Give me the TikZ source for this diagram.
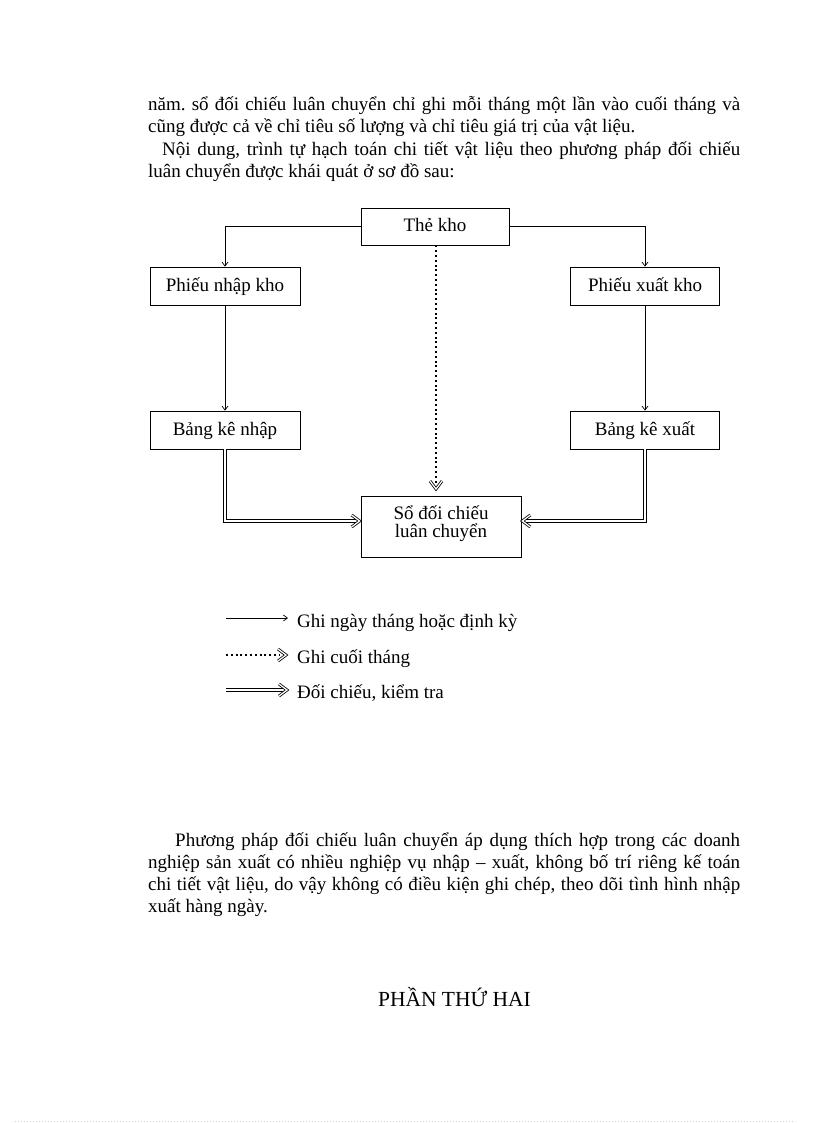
\documentclass[tikz,border=0pt]{standalone}
\usepackage{fontspec}
\setmainfont{Liberation Serif}
\usetikzlibrary{arrows.meta}
\frenchspacing
\begin{document}
\begin{tikzpicture}[x=1pt,y=-1pt,
  every node/.style={font=\fontsize{19}{22}\selectfont, inner sep=0pt},
  box/.style={draw, line width=0.8pt, minimum width=149pt, minimum height=38pt, text height=15pt, text depth=4pt},
  txt/.style={anchor=base west},
  thinarr/.style={line width=0.7pt, -{Straight Barb[length=4pt,width=6pt,line width=0.7pt]}},
  dotline/.style={line width=2pt, dash pattern=on 2pt off 2.8pt},
  dbl/.style={double, double distance=2pt, line width=1pt},
  chev/.style={double, double distance=1.3pt, line width=0.8pt, line join=miter, miter limit=20},
]
\useasboundingbox (0,0) rectangle (816,1123);
\fill[white] (0,0) rectangle (816,1123);

% top paragraph
\node[txt] (p1) at (148,111) {\makebox[592pt][s]{năm. sổ đối chiếu luân chuyển chỉ ghi mỗi tháng một lần vào cuối tháng và}};
\node[txt] (p2) at (148,133) {cũng được cả về chỉ tiêu số lượng và chỉ tiêu giá trị của vật liệu.};
\node[txt] (p3) at (162,156) {\makebox[578pt][s]{Nội dung, trình tự hạch toán chi tiết vật liệu theo phương pháp đối chiếu}};
\node[txt] (p4) at (148,178) {luân chuyển được khái quát ở sơ đồ sau:};

% boxes
\node[box, minimum width=148pt, minimum height=37pt] (the) at (435,226.5) {Thẻ kho};
\node[box, minimum width=150pt] (pnk) at (225,286) {Phiếu nhập kho};
\node[box] (pxk) at (645,286) {Phiếu xuất kho};
\node[box, minimum width=150pt] (bkn) at (225,430) {Bảng kê nhập};
\node[box] (bkx) at (645,430) {Bảng kê xuất};
\node[box, minimum width=160pt, minimum height=61pt] (so) at (441,526.5) {};
\node[align=center, font=\fontsize{19}{18}\selectfont] (sot) at (441,524) {Sổ đối chiếu\\luân chuyển};

% connectors
\draw[thinarr] (the.west) -| (pnk.north);
\draw[thinarr] (the.east) -| (pxk.north);
\draw[thinarr] (pnk.south) -- (bkn.north);
\draw[thinarr] (pxk.south) -- (bkx.north);

\coordinate (dotend) at (436,489);
\draw[dotline, shorten >=6pt] (the.south -| dotend) -- (dotend);
\draw[chev] ([xshift=-6pt,yshift=8pt]dotend) -- (dotend) -- ([xshift=6pt,yshift=8pt]dotend);

\coordinate (soL) at ([xshift=-1pt,yshift=5.5pt]so.west);
\coordinate (soR) at ([xshift=1pt,yshift=5.5pt]so.east);
\draw[dbl, shorten >=4pt] (bkn.south) |- (soL);
\draw[dbl, shorten >=4pt] (bkx.south) |- (soR);
\draw[chev] ([xshift=-8pt,yshift=6pt]soL) -- (soL) -- ([xshift=-8pt,yshift=-6pt]soL);
\draw[chev] ([xshift=8pt,yshift=6pt]soR) -- (soR) -- ([xshift=8pt,yshift=-6pt]soR);

% legend
\coordinate (a1) at (226,618); \coordinate (b1) at (288,618);
\coordinate (a2) at (226,655); \coordinate (b2) at (286,655);
\coordinate (a3) at (226,690); \coordinate (b3) at (287,690);
\draw[thinarr] (a1) -- (b1);
\draw[dotline, shorten >=6pt] (a2) -- (b2);
\draw[chev] ([xshift=-8pt,yshift=6pt]b2) -- (b2) -- ([xshift=-8pt,yshift=-6pt]b2);
\draw[dbl, shorten >=4pt] (a3) -- (b3);
\draw[chev] ([xshift=-8pt,yshift=6pt]b3) -- (b3) -- ([xshift=-8pt,yshift=-6pt]b3);
\node[txt] (l1) at (297,627) {Ghi ngày tháng hoặc định kỳ};
\node[txt] (l2) at (297,663) {Ghi cuối tháng};
\node[txt] (l3) at (297,698) {Đối chiếu, kiểm tra};

% bottom paragraph
\node[txt] (q1) at (175,846) {\makebox[565pt][s]{Phương pháp đối chiếu luân chuyển áp dụng thích hợp trong các doanh}};
\node[txt] (q2) at (148,868) {\makebox[592pt][s]{nghiệp sản xuất có nhiều nghiệp vụ nhập – xuất, không bố trí riêng kế toán}};
\node[txt] (q3) at (148,890) {\makebox[592pt][s]{chi tiết vật liệu, do vậy không có điều kiện ghi chép, theo dõi tình hình nhập}};
\node[txt] (q4) at (148,912) {xuất hàng ngày.};

\node[font=\fontsize{21.5}{24}\selectfont] (ph) at (454.5,997) {PHẦN THỨ HAI};

\draw[gray!35, line width=0.5pt, dash pattern=on 1pt off 2pt] (15,1121) -- (795,1121);
\end{tikzpicture}
\end{document}
